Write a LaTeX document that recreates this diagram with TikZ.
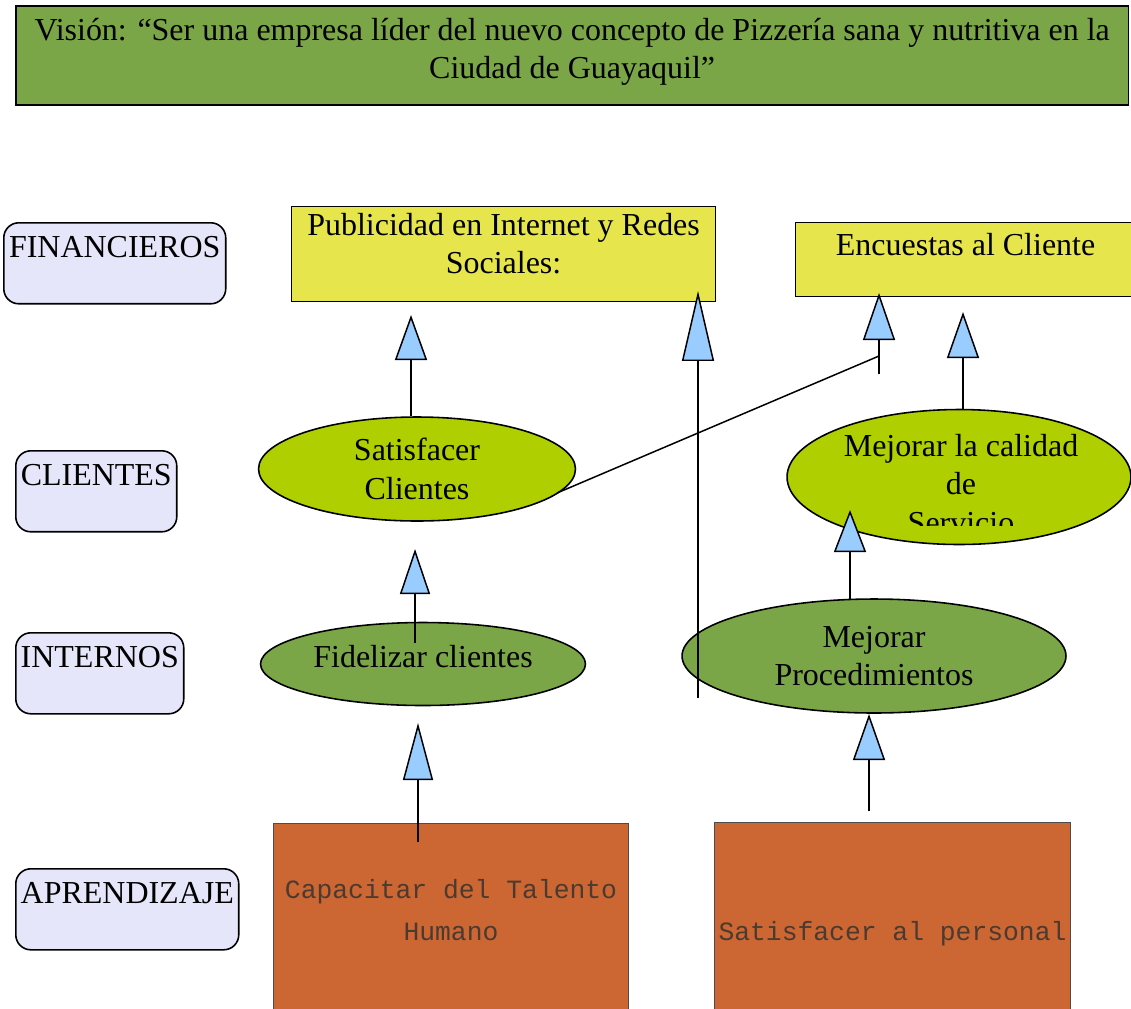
\documentclass[tikz,border=0pt]{standalone}
\usepackage{fontspec}
\setmainfont{Liberation Serif}
\setmonofont{Liberation Mono}
\usetikzlibrary{arrows.meta,shapes.geometric}
\definecolor{lav}{HTML}{E6E6FA}
\definecolor{goldbox}{HTML}{E6E64C}
\definecolor{limeobj}{HTML}{AFCF00}
\definecolor{oliveobj}{HTML}{7BA647}
\definecolor{orangebox}{HTML}{CC6633}
\definecolor{monotext}{HTML}{4A3A30}
\definecolor{tipblue}{HTML}{99CCFF}
\tikzset{
  every node/.style={font=\fontsize{18.2}{21.8}\selectfont},
  persp/.style={draw, fill=lav, rounded corners=0.3cm, line width=0.9pt, inner sep=0pt,
    text height=0.7cm, text depth=0.92cm, anchor=north west},
  meta/.style={draw, fill=goldbox, line width=0.7pt, inner sep=0pt, anchor=north west, align=center},
  objlime/.style={ellipse, draw, fill=limeobj, line width=0.9pt, inner sep=0pt, align=center},
  objolive/.style={ellipse, draw, fill=oliveobj, line width=0.9pt, inner sep=0pt, align=center},
  accion/.style={draw=black!70, fill=orangebox, line width=0.6pt, inner sep=0pt, anchor=north west,
    align=center, text=monotext, font=\ttfamily\fontsize{15}{23.8}\selectfont},
  tri/.style={line width=0.85pt, -{Triangle[width=0.64cm,length=0.9cm,fill=tipblue]}}
}
\begin{document}
\begin{tikzpicture}[x=0.02cm,y=-0.02cm]
\clip (0,0) rectangle (1131,1008);

\node[draw, fill=oliveobj, line width=0.9pt, inner sep=0pt, anchor=north west, align=center,
  minimum width=22.26cm, text height=1.46cm, text depth=0.52cm] (vision) at (15,5)
  {Visión: “Ser una empresa líder del nuevo concepto de Pizzería sana y nutritiva en la\\Ciudad de Guayaquil”};

\node[persp, minimum width=4.44cm] (fin) at (3,222) {FINANCIEROS};
\node[persp, minimum width=3.22cm] (cli) at (15,450) {CLIENTES};
\node[persp, minimum width=3.36cm] (int) at (15,632) {INTERNOS};
\node[persp, minimum width=4.46cm] (apr) at (15,868) {APRENDIZAJE};

\node[meta, minimum width=8.48cm, text height=1.34cm, text depth=0.56cm] (publi) at (291,206)
  {Publicidad en Internet y Redes\\Sociales:};
\node[meta, minimum width=6.8cm, text height=0.66cm, text depth=0.82cm] (encu) at (795,222)
  {Encuestas al Cliente};

\node[objlime, minimum width=6.34cm, minimum height=2.08cm] (satcli) at (417,469)
  {Satisfacer\\Clientes};
\node[objlime, minimum width=6.88cm, minimum height=2.7cm] (calidad) at (959,477) {};
\begin{scope}
  \clip (780,400) rectangle (1131,525);
  \node[align=center] (caltxt) at (961,484) {Mejorar la calidad\\de\\Servicio};
\end{scope}

\node[objolive, minimum width=6.5cm, minimum height=1.66cm, text height=0.44cm, text depth=0.32cm] (fide) at (423,664)
  {Fidelizar clientes};
\node[objolive, minimum width=7.68cm, minimum height=2.28cm] (proc) at (874,656)
  {Mejorar\\Procedimientos};

\node[accion, minimum width=7.1cm, text height=2.34cm, text depth=1.5cm] (capa) at (273,823)
  {Capacitar del Talento\\Humano};
\node[accion, minimum width=7.12cm, text height=2.36cm, text depth=1.5cm] (satper) at (714,822)
  {Satisfacer al personal};

\coordinate (t1) at (411,315);
\coordinate (t2a) at (698,698);
\coordinate (t2) at (698,291);
\coordinate (t3a) at (557,493);
\coordinate (t3m) at (879,356);
\coordinate (t3b) at (879,374);
\coordinate (t3) at (879,293);
\coordinate (t4) at (963,312);
\coordinate (t5a) at (415,643);
\coordinate (t5) at (415,549);
\coordinate (t6a) at (418,842);
\coordinate (t6) at (418,723);
\coordinate (t7a) at (850,600);
\coordinate (t7) at (850,510);
\coordinate (t8a) at (869,811);
\coordinate (t8) at (869,714);

\draw[tri] (t1 |- satcli.north) -- (t1);
\draw[line width=0.85pt, -{Triangle[width=0.64cm,length=1.4cm,fill=tipblue]}] (t2a) -- (t2);
\draw[line width=0.85pt] (t3a) -- (t3m);
\draw[tri, -{Triangle[width=0.64cm,length=0.94cm,fill=tipblue]}] (t3b) -- (t3);
\draw[tri, -{Triangle[width=0.64cm,length=0.92cm,fill=tipblue]}] (t4 |- calidad.north) -- (t4);
\draw[tri, -{Triangle[width=0.6cm,length=0.9cm,fill=tipblue]}] (t5a) -- (t5);
\draw[line width=1.4pt, -{Triangle[width=0.6cm,length=1.14cm,fill=tipblue,line width=0.85pt]}] (t6a) -- (t6);
\draw[tri, -{Triangle[width=0.64cm,length=0.84cm,fill=tipblue]}] (t7a) -- (t7);
\draw[tri, -{Triangle[width=0.64cm,length=0.92cm,fill=tipblue]}] (t8a) -- (t8);
\end{tikzpicture}
\end{document}
